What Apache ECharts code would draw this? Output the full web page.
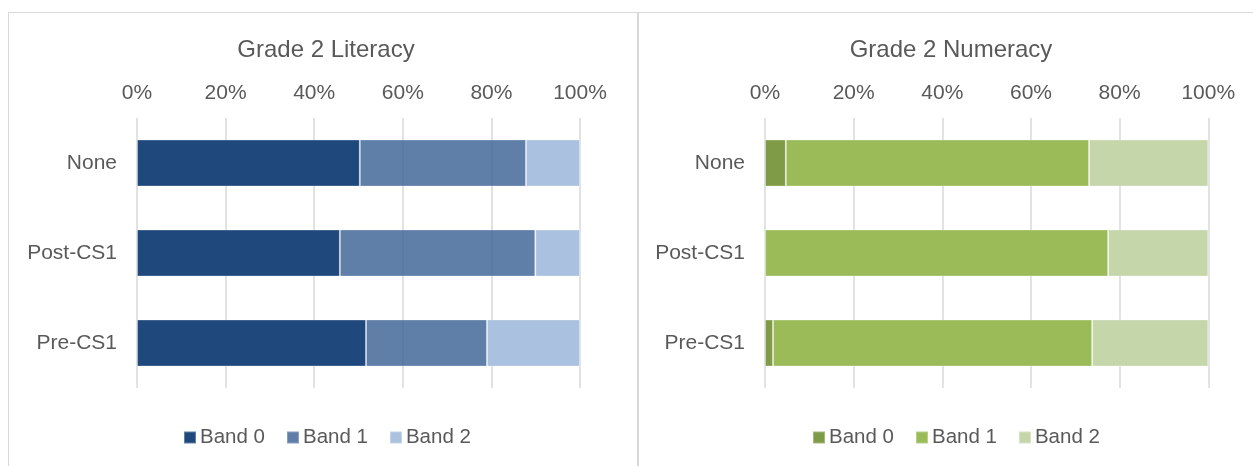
<!DOCTYPE html>
<html>
<head>
<meta charset="utf-8">
<script src="https://cdn.jsdelivr.net/npm/echarts@6/dist/echarts.min.js"></script>
<style>
  html, body { margin: 0; padding: 0; width: 1253px; height: 466px; overflow: hidden; background: #fff; }
  .panel { position: absolute; top: 12px; height: 453px; border-top: 1px solid #d9d9d9; border-left: 1px solid #d9d9d9; }
  #lit { left: 8px; width: 628px; border-right: 1px solid #d9d9d9; }
  #num { left: 638px; width: 614px; }
</style>
</head>
<body>
<div id="lit" class="panel"></div>
<div id="num" class="panel"></div>
<script>
// Cohort categories, top to bottom
const categories = ['None', 'Post-CS1', 'Pre-CS1'];
const bandNames = ['Band 0', 'Band 1', 'Band 2'];
const tickLabels = ['0%', '20%', '40%', '60%', '80%', '100%'];

// Grade 2 Literacy, share of pupils per band (%)
const literacyBand0 = [50.3, 45.8, 51.7];
const literacyBand1 = [37.5, 44.1, 27.3];
const literacyBand2 = [12.2, 10.1, 21.0];

// Grade 2 Numeracy, share of pupils per band (%)
const numeracyBand0 = [4.7, 0.0, 1.8];
const numeracyBand1 = [68.4, 77.4, 72.0];
const numeracyBand2 = [26.9, 22.6, 26.2];

const FONT = '"Liberation Sans", Arial, sans-serif';
const TEXT = '#595959';
const GRIDLINE = '#d9d9d9';

function buildOption(cfg) {
  return {
    animation: false,
    textStyle: { fontFamily: FONT },
    title: {
      text: cfg.title,
      left: cfg.titleX,
      textAlign: 'center',
      top: 25,
      padding: 0,
      textStyle: { fontFamily: FONT, fontSize: 24, fontWeight: 'normal', color: TEXT }
    },
    legend: {
      left: cfg.legendX,
      top: 414,
      padding: 0,
      icon: 'rect',
      itemWidth: 12,
      itemHeight: 12,
      itemGap: 21,
      textStyle: { fontFamily: FONT, fontSize: 20.5, color: TEXT, padding: [0, 0, 0, -1] },
      data: bandNames
    },
    grid: { left: cfg.gridLeft, right: cfg.gridRight, top: 105, bottom: 78, containLabel: false },
    xAxis: {
      type: 'value',
      position: 'top',
      min: 0,
      max: 100,
      interval: 20,
      axisLine: { show: false },
      axisTick: { show: false },
      axisLabel: {
        margin: 14,
        fontFamily: FONT,
        fontSize: 21,
        color: TEXT,
        formatter: v => tickLabels[Math.round(v / 20)]
      },
      splitLine: { show: true, lineStyle: { color: GRIDLINE, width: 1.5 } }
    },
    yAxis: {
      type: 'category',
      inverse: true,
      data: categories,
      axisLine: { show: false },
      axisTick: { show: false },
      axisLabel: { margin: 20, fontFamily: FONT, fontSize: 21, color: TEXT }
    },
    series: cfg.values.map((vals, i) => ({
      name: bandNames[i],
      type: 'bar',
      stack: 'total',
      barWidth: 47,
      data: vals,
      itemStyle: Object.assign(
        { color: cfg.colors[i], borderColor: 'rgba(255,255,255,0.3)', borderWidth: 1 },
        cfg.opacity && cfg.opacity[i] !== undefined ? { opacity: cfg.opacity[i] } : {}
      )
    }))
  };
}

const litChart = echarts.init(document.getElementById('lit'), null, { renderer: 'canvas' });
litChart.setOption(buildOption({
  title: 'Grade 2 Literacy',
  titleX: 317,
  legendX: 174,
  gridLeft: 128,
  gridRight: 57,
  values: [literacyBand0, literacyBand1, literacyBand2],
  colors: ['#1F497D', '#43689A', '#AAC1E0'],
  opacity: [1, 0.85, 1]
}));

const numChart = echarts.init(document.getElementById('num'), null, { renderer: 'canvas' });
numChart.setOption(buildOption({
  title: 'Grade 2 Numeracy',
  titleX: 312,
  legendX: 173,
  gridLeft: 126,
  gridRight: 44.7,
  values: [numeracyBand0, numeracyBand1, numeracyBand2],
  colors: ['#7F9B47', '#9BBB59', '#C5D6AB']
}));
</script>
</body>
</html>
